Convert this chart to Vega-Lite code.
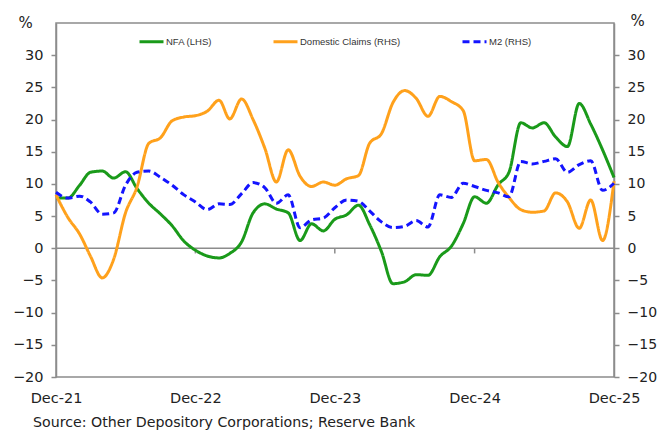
{
  "$schema": "https://vega.github.io/schema/vega-lite/v6.json",
  "width": 558,
  "height": 354,
  "autosize": {"type": "none"},
  "padding": {"left": 56, "top": 23, "right": 43, "bottom": 53},
  "background": "white",
  "config": {
    "view": {"stroke": "#8c8c8c", "strokeWidth": 1.5},
    "font": "DejaVu Sans",
    "axis": {"labelFont": "DejaVu Sans", "labelColor": "#222222", "labelFontSize": 14.5, "domainColor": "#8c8c8c", "domainWidth": 1.5, "tickColor": "#8c8c8c", "tickWidth": 1.5, "grid": false}
  },
  "title": {"text": "Source: Other Depository Corporations;  Reserve Bank", "orient": "bottom", "anchor": "start", "frame": "group", "dx": -23, "offset": 11, "fontSize": 14.2, "font": "DejaVu Sans", "fontWeight": "normal", "color": "#222222", "baseline": "top"},
  "datasets": {
    "series": [
      {"date": "2021-12-01", "NFA (LHS)": 7.8, "Domestic Claims (RHS)": 8.3, "M2 (RHS)": 8.7},
      {"date": "2022-01-01", "NFA (LHS)": 7.8, "Domestic Claims (RHS)": 4.8, "M2 (RHS)": 7.8},
      {"date": "2022-02-01", "NFA (LHS)": 9.8, "Domestic Claims (RHS)": 2.2, "M2 (RHS)": 8.1},
      {"date": "2022-03-01", "NFA (LHS)": 11.8, "Domestic Claims (RHS)": -1.2, "M2 (RHS)": 7.2},
      {"date": "2022-04-01", "NFA (LHS)": 12.0, "Domestic Claims (RHS)": -4.6, "M2 (RHS)": 5.3},
      {"date": "2022-05-01", "NFA (LHS)": 10.9, "Domestic Claims (RHS)": -1.7, "M2 (RHS)": 5.5},
      {"date": "2022-06-01", "NFA (LHS)": 11.9, "Domestic Claims (RHS)": 5.5, "M2 (RHS)": 9.8},
      {"date": "2022-07-01", "NFA (LHS)": 9.3, "Domestic Claims (RHS)": 9.5, "M2 (RHS)": 11.8},
      {"date": "2022-08-01", "NFA (LHS)": 7.0, "Domestic Claims (RHS)": 16.3, "M2 (RHS)": 12.0},
      {"date": "2022-09-01", "NFA (LHS)": 5.3, "Domestic Claims (RHS)": 17.2, "M2 (RHS)": 11.0},
      {"date": "2022-10-01", "NFA (LHS)": 3.5, "Domestic Claims (RHS)": 19.8, "M2 (RHS)": 9.8},
      {"date": "2022-11-01", "NFA (LHS)": 1.1, "Domestic Claims (RHS)": 20.4, "M2 (RHS)": 8.3},
      {"date": "2022-12-01", "NFA (LHS)": -0.3, "Domestic Claims (RHS)": 20.6, "M2 (RHS)": 7.2},
      {"date": "2023-01-01", "NFA (LHS)": -1.2, "Domestic Claims (RHS)": 21.3, "M2 (RHS)": 6.0},
      {"date": "2023-02-01", "NFA (LHS)": -1.5, "Domestic Claims (RHS)": 23.0, "M2 (RHS)": 6.9},
      {"date": "2023-03-01", "NFA (LHS)": -0.8, "Domestic Claims (RHS)": 20.1, "M2 (RHS)": 6.8},
      {"date": "2023-04-01", "NFA (LHS)": 1.0, "Domestic Claims (RHS)": 23.2, "M2 (RHS)": 8.5},
      {"date": "2023-05-01", "NFA (LHS)": 5.5, "Domestic Claims (RHS)": 20.0, "M2 (RHS)": 10.2},
      {"date": "2023-06-01", "NFA (LHS)": 6.9, "Domestic Claims (RHS)": 15.5, "M2 (RHS)": 9.4},
      {"date": "2023-07-01", "NFA (LHS)": 6.1, "Domestic Claims (RHS)": 10.3, "M2 (RHS)": 7.0},
      {"date": "2023-08-01", "NFA (LHS)": 5.5, "Domestic Claims (RHS)": 15.3, "M2 (RHS)": 8.3},
      {"date": "2023-09-01", "NFA (LHS)": 1.2, "Domestic Claims (RHS)": 11.2, "M2 (RHS)": 3.2},
      {"date": "2023-10-01", "NFA (LHS)": 3.8, "Domestic Claims (RHS)": 9.6, "M2 (RHS)": 4.4},
      {"date": "2023-11-01", "NFA (LHS)": 2.7, "Domestic Claims (RHS)": 10.3, "M2 (RHS)": 4.7},
      {"date": "2023-12-01", "NFA (LHS)": 4.5, "Domestic Claims (RHS)": 9.8, "M2 (RHS)": 6.3},
      {"date": "2024-01-01", "NFA (LHS)": 5.2, "Domestic Claims (RHS)": 10.8, "M2 (RHS)": 7.5},
      {"date": "2024-02-01", "NFA (LHS)": 6.7, "Domestic Claims (RHS)": 11.3, "M2 (RHS)": 7.3},
      {"date": "2024-03-01", "NFA (LHS)": 3.7, "Domestic Claims (RHS)": 16.3, "M2 (RHS)": 5.8},
      {"date": "2024-04-01", "NFA (LHS)": -0.5, "Domestic Claims (RHS)": 17.8, "M2 (RHS)": 4.1},
      {"date": "2024-05-01", "NFA (LHS)": -5.5, "Domestic Claims (RHS)": 22.6, "M2 (RHS)": 3.2},
      {"date": "2024-06-01", "NFA (LHS)": -5.2, "Domestic Claims (RHS)": 24.5, "M2 (RHS)": 3.4},
      {"date": "2024-07-01", "NFA (LHS)": -4.1, "Domestic Claims (RHS)": 23.3, "M2 (RHS)": 4.3},
      {"date": "2024-08-01", "NFA (LHS)": -4.2, "Domestic Claims (RHS)": 20.5, "M2 (RHS)": 3.3},
      {"date": "2024-09-01", "NFA (LHS)": -1.3, "Domestic Claims (RHS)": 23.6, "M2 (RHS)": 8.3},
      {"date": "2024-10-01", "NFA (LHS)": 0.3, "Domestic Claims (RHS)": 22.8, "M2 (RHS)": 7.9},
      {"date": "2024-11-01", "NFA (LHS)": 3.8, "Domestic Claims (RHS)": 21.4, "M2 (RHS)": 10.1},
      {"date": "2024-12-01", "NFA (LHS)": 8.0, "Domestic Claims (RHS)": 13.6, "M2 (RHS)": 9.6},
      {"date": "2025-01-01", "NFA (LHS)": 7.0, "Domestic Claims (RHS)": 13.8, "M2 (RHS)": 9.0},
      {"date": "2025-02-01", "NFA (LHS)": 9.9, "Domestic Claims (RHS)": 10.2, "M2 (RHS)": 8.6},
      {"date": "2025-03-01", "NFA (LHS)": 11.8, "Domestic Claims (RHS)": 7.9, "M2 (RHS)": 8.0},
      {"date": "2025-04-01", "NFA (LHS)": 19.5, "Domestic Claims (RHS)": 6.0, "M2 (RHS)": 13.5},
      {"date": "2025-05-01", "NFA (LHS)": 18.7, "Domestic Claims (RHS)": 5.6, "M2 (RHS)": 13.1},
      {"date": "2025-06-01", "NFA (LHS)": 19.5, "Domestic Claims (RHS)": 5.8, "M2 (RHS)": 13.5},
      {"date": "2025-07-01", "NFA (LHS)": 17.3, "Domestic Claims (RHS)": 8.6, "M2 (RHS)": 13.9},
      {"date": "2025-08-01", "NFA (LHS)": 15.8, "Domestic Claims (RHS)": 7.2, "M2 (RHS)": 11.8},
      {"date": "2025-09-01", "NFA (LHS)": 22.5, "Domestic Claims (RHS)": 3.1, "M2 (RHS)": 13.0},
      {"date": "2025-10-01", "NFA (LHS)": 19.3, "Domestic Claims (RHS)": 7.5, "M2 (RHS)": 13.6},
      {"date": "2025-11-01", "NFA (LHS)": 15.3, "Domestic Claims (RHS)": 1.2, "M2 (RHS)": 9.0},
      {"date": "2025-12-01", "NFA (LHS)": 11.0, "Domestic Claims (RHS)": 10.4, "M2 (RHS)": 10.1}
    ],
    "decs": [
      {"date": "2022-12-01"},
      {"date": "2023-12-01"},
      {"date": "2024-12-01"}
    ]
  },
  "resolve": {"scale": {"y": "independent"}},
  "layer": [
    {
      "data": {"values": [{"v": 0}]},
      "mark": {"type": "rule", "color": "#8c8c8c", "strokeWidth": 1.5},
      "encoding": {
        "y": {"field": "v", "type": "quantitative", "scale": {"domain": [-20, 35], "nice": false, "zero": false}, "axis": null}
      }
    },
    {
      "data": {"name": "decs"},
      "mark": {"type": "rule", "color": "#8c8c8c", "strokeWidth": 1.5},
      "encoding": {
        "x": {"field": "date", "type": "temporal", "scale": {"type": "utc", "domain": ["2021-12-01", "2025-12-01"]},
          "axis": {"title": null, "values": [{"year": 2021, "month": 12, "date": 1, "utc": true}, {"year": 2022, "month": 12, "date": 1, "utc": true}, {"year": 2023, "month": 12, "date": 1, "utc": true}, {"year": 2024, "month": 12, "date": 1, "utc": true}, {"year": 2025, "month": 12, "date": 1, "utc": true}],
            "labelExpr": "utcFormat(datum.value, '%b-%y')", "tickSize": 0, "labelPadding": 14, "labelFlush": false, "labelOverlap": false, "labelBound": false, "domain": false}},
        "y": {"datum": 0, "type": "quantitative", "scale": {"domain": [-20, 35], "nice": false, "zero": false}, "axis": null},
        "y2": {"datum": -0.8}
      }
    },
    {
      "data": {"name": "series"},
      "transform": [{"fold": ["NFA (LHS)", "Domestic Claims (RHS)", "M2 (RHS)"], "as": ["series", "value"]}],
      "mark": {"type": "line", "interpolate": "monotone", "strokeWidth": 3},
      "encoding": {
        "x": {"field": "date", "type": "temporal",
          "scale": {"type": "utc", "domain": ["2021-12-01", "2025-12-01"]},
          "axis": {"title": null, "values": [{"year": 2021, "month": 12, "date": 1, "utc": true}, {"year": 2022, "month": 12, "date": 1, "utc": true}, {"year": 2023, "month": 12, "date": 1, "utc": true}, {"year": 2024, "month": 12, "date": 1, "utc": true}, {"year": 2025, "month": 12, "date": 1, "utc": true}],
            "labelExpr": "utcFormat(datum.value, '%b-%y')", "tickSize": 0, "labelPadding": 14, "labelFlush": false, "labelOverlap": false, "labelBound": false, "domain": false}},
        "y": {"field": "value", "type": "quantitative",
          "scale": {"domain": [-20, 35], "nice": false, "zero": false},
          "axis": {"values": [-20, -15, -10, -5, 0, 5, 10, 15, 20, 25, 30], "tickSize": 5, "labelPadding": 8,
            "title": "%", "titleAngle": 0, "titleX": -31, "titleY": -1, "titleAlign": "center", "titleBaseline": "middle", "titleFontWeight": "normal", "titleFontSize": 15, "titleFont": "DejaVu Sans", "titleColor": "#222222"}
        },
        "color": {"field": "series", "type": "nominal",
          "scale": {"domain": ["NFA (LHS)", "Domestic Claims (RHS)", "M2 (RHS)"], "range": ["#1a9a1a", "#ffa11c", "#1414ff"]},
          "legend": {"title": null, "orient": "none", "legendX": 82, "legendY": 5, "direction": "horizontal", "symbolType": "stroke", "symbolSize": 576, "symbolStrokeWidth": 3, "labelFontSize": 9.5, "labelFont": "Liberation Sans", "labelColor": "#333333", "labelOffset": 1, "columnPadding": 55}
        },
        "strokeDash": {"field": "series", "type": "nominal",
          "scale": {"domain": ["NFA (LHS)", "Domestic Claims (RHS)", "M2 (RHS)"], "range": [[1, 0], [1, 0], [7, 4]]},
          "legend": {"title": null, "orient": "none", "legendX": 82, "legendY": 5, "direction": "horizontal", "symbolType": "stroke", "symbolSize": 576, "symbolStrokeWidth": 3, "labelFontSize": 9.5, "labelFont": "Liberation Sans", "labelColor": "#333333", "labelOffset": 1, "columnPadding": 55}
        }
      }
    },
    {
      "data": {"values": [{"v": 0}]},
      "mark": {"type": "rule", "opacity": 0},
      "encoding": {
        "y": {"field": "v", "type": "quantitative",
          "scale": {"domain": [-20, 35], "nice": false, "zero": false},
          "axis": {"orient": "right", "values": [-20, -15, -10, -5, 0, 5, 10, 15, 20, 25, 30], "tickSize": 5, "labelPadding": 8, "labelFontSize": 14,
            "title": "%", "titleAngle": 0, "titleX": 23, "titleY": -3, "titleAlign": "center", "titleBaseline": "middle", "titleFontWeight": "normal", "titleFontSize": 15, "titleFont": "DejaVu Sans", "titleColor": "#222222"}
        }
      }
    }
  ]
}
